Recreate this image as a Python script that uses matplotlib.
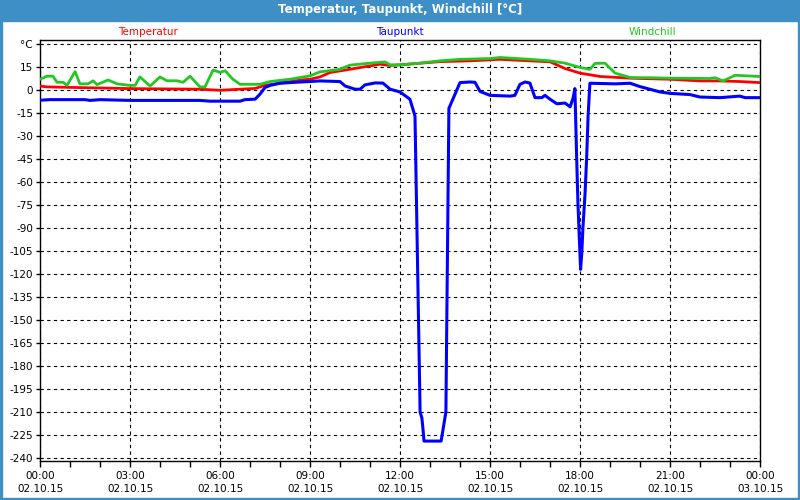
import matplotlib
matplotlib.use("Agg")
import matplotlib.pyplot as plt
from matplotlib.patches import Rectangle
from matplotlib.ticker import MultipleLocator

# Stunden seit 02.10.15 00:00
wc_h = [0, 0.23, 0.43, 0.57, 0.77, 0.9, 1.17, 1.33, 1.6, 1.77, 1.9, 2.27, 2.57, 3.0, 3.17,
        3.33, 3.67, 4.0, 4.23, 4.57, 4.77, 5.0, 5.33, 5.5, 5.77, 6.0, 6.17, 6.43, 6.67,
        7.33, 7.67, 8.33, 9.0, 9.33, 10.0, 10.33, 11.0, 11.5, 11.67, 12.0, 12.67, 13.33,
        14.0, 15.0, 15.33, 16.33, 17.0, 17.5, 18.0, 18.33, 18.5, 18.83, 19.17, 19.67,
        20.33, 21.0, 22.33, 22.5, 22.77, 23.17, 24]
wc_v = [7, 9, 9, 5, 5, 3, 12, 4, 4, 6, 3.5, 6.5, 4, 3, 3, 8.5, 2.6, 8.5, 6, 6, 5, 9, 2, 2,
        13, 11.5, 12.5, 7, 3.7, 3.7, 5.5, 7, 9.2, 11.8, 13.5, 16.2, 17.5, 18.3, 16.4, 16.4,
        17.5, 19, 20, 20.5, 21.2, 20, 19, 17.5, 14.7, 13.5, 17.3, 17.5, 11, 8.1, 8, 7.7,
        7.5, 8, 5.9, 9.6, 8.8]

temp_h = [0, 0.23, 3.0, 5.33, 6.0, 6.67, 7.17, 7.5, 8.0, 8.67, 9.0, 9.33, 9.67, 10.33,
          11.33, 11.67, 12.0, 13.33, 14.33, 15.33, 16.33, 17.0, 17.5, 18.0, 18.67, 19.67,
          21.0, 22.0, 22.67, 23.33, 24]
temp_v = [2.6, 2, 0.9, 0.5, -0.2, 0.5, 1, 3, 4.4, 6.5, 7, 8.5, 11.4, 13.5, 16.8, 16, 16.4,
          18.5, 19, 20, 19, 18.4, 14, 11, 8.8, 7.7, 7, 5.9, 5.9, 5.5, 4.8]

dew_h = [0, 0.33, 1.5, 1.67, 2.0, 3.0, 5.33, 5.67, 6.67, 6.83, 7.17, 7.33, 7.5, 7.67, 8.0,
         8.67, 9.33, 10.0, 10.17, 10.5, 10.67, 10.83, 11.17, 11.43, 11.67, 12.0, 12.33,
         12.5, 12.67, 12.73, 12.77, 12.8, 13.37, 13.43, 13.53, 13.63, 14.0, 14.33, 14.5,
         14.67, 15.0, 15.67, 15.83, 16.0, 16.17, 16.33, 16.5, 16.73, 16.83, 17.0, 17.23,
         17.5, 17.67, 17.77, 17.83, 17.89, 17.93, 17.97, 18.02, 18.06, 18.1, 18.17, 18.22,
         18.27, 18.33, 19.17, 19.67, 20.0, 20.67, 21.0, 21.67, 22.0, 22.67, 23.33, 23.5, 24]
dew_v = [-6.7, -6.3, -6.3, -6.8, -6.3, -6.8, -6.8, -7.3, -7.3, -6.3, -6, -2.8, 1.6, 3, 4.4,
         5.2, 5.9, 5.5, 2.6, 0.5, 0.5, 3.3, 4.6, 4.5, 0.5, -1.3, -6, -17, -210, -214, -222,
         -229, -229, -222, -210, -12, 4.8, 5.2, 5, -1, -3.5, -4, -3.5, 3.7, 5.2, 4.5, -5,
         -5, -3.5, -6, -9, -8.5, -11, -5.3, 0.9, -45, -73, -93, -117, -106, -89, -67, -45,
         -17, 4.4, 4, 4.4, 2.2, -1.3, -2.2, -3, -4.6, -5, -4, -5, -5]

x_ticks = [0, 3, 6, 9, 12, 15, 18, 21, 24]
x_labels = ["00:00\n02.10.15", "03:00\n02.10.15", "06:00\n02.10.15", "09:00\n02.10.15",
            "12:00\n02.10.15", "15:00\n02.10.15", "18:00\n02.10.15", "21:00\n02.10.15",
            "00:00\n03.10.15"]
y_ticks = list(range(-240, 31, 15))
y_labels = [str(v) for v in y_ticks[:-1]] + ["°C"]

fig = plt.figure(figsize=(8, 5), dpi=100, facecolor="white")

# Rahmen und Titelleiste
frame = "#3d8fc6"
fig.patches.append(Rectangle((0, 1 - 21 / 500), 1, 21 / 500, transform=fig.transFigure,
                             color=frame, zorder=0))
fig.patches.append(Rectangle((0, 0), 2 / 800, 1, transform=fig.transFigure, color=frame))
fig.patches.append(Rectangle((1 - 2 / 800, 0), 2 / 800, 1, transform=fig.transFigure, color=frame))
fig.patches.append(Rectangle((0, 0), 1, 2 / 500, transform=fig.transFigure, color=frame))
fig.text(0.5, 1 - 10 / 500, "Temperatur, Taupunkt, Windchill [°C]", color="white",
         fontsize=8.5, fontweight="bold", ha="center", va="center")

fig.text(148 / 800, 1 - 32 / 500, "Temperatur", color="#ff0000", fontsize=7.5, ha="center", va="center")
fig.text(400 / 800, 1 - 32 / 500, "Taupunkt", color="#0000ff", fontsize=7.5, ha="center", va="center")
fig.text(652 / 800, 1 - 32 / 500, "Windchill", color="#22c822", fontsize=7.5, ha="center", va="center")

ax = fig.add_axes([40 / 800, 39 / 500, 720 / 800, 421 / 500])
ax.plot(temp_h, temp_v, color="#ff0000", lw=2.0, zorder=3)
ax.plot(wc_h, wc_v, color="#22c822", lw=2.0, zorder=4)
ax.plot(dew_h, dew_v, color="#0000ff", lw=2.2, zorder=5)

ax.set_xlim(0, 24)
ax.set_ylim(-242, 32.6)
ax.set_xticks(x_ticks)
ax.set_xticklabels(x_labels, fontsize=7.5, linespacing=1.45)
ax.xaxis.set_minor_locator(MultipleLocator(1))
ax.set_yticks(y_ticks)
ax.set_yticklabels(y_labels, fontsize=7.5)
ax.tick_params(axis="x", which="both", direction="out", length=4, width=1, pad=3)
ax.tick_params(axis="y", direction="out", length=3, width=1, pad=2)
ax.grid(True, color="black", linestyle=(0, (3, 3)), linewidth=0.8)
for s in ax.spines.values():
    s.set_color("black")
    s.set_linewidth(1)

fig.savefig("out.png", dpi=100, facecolor="white")
